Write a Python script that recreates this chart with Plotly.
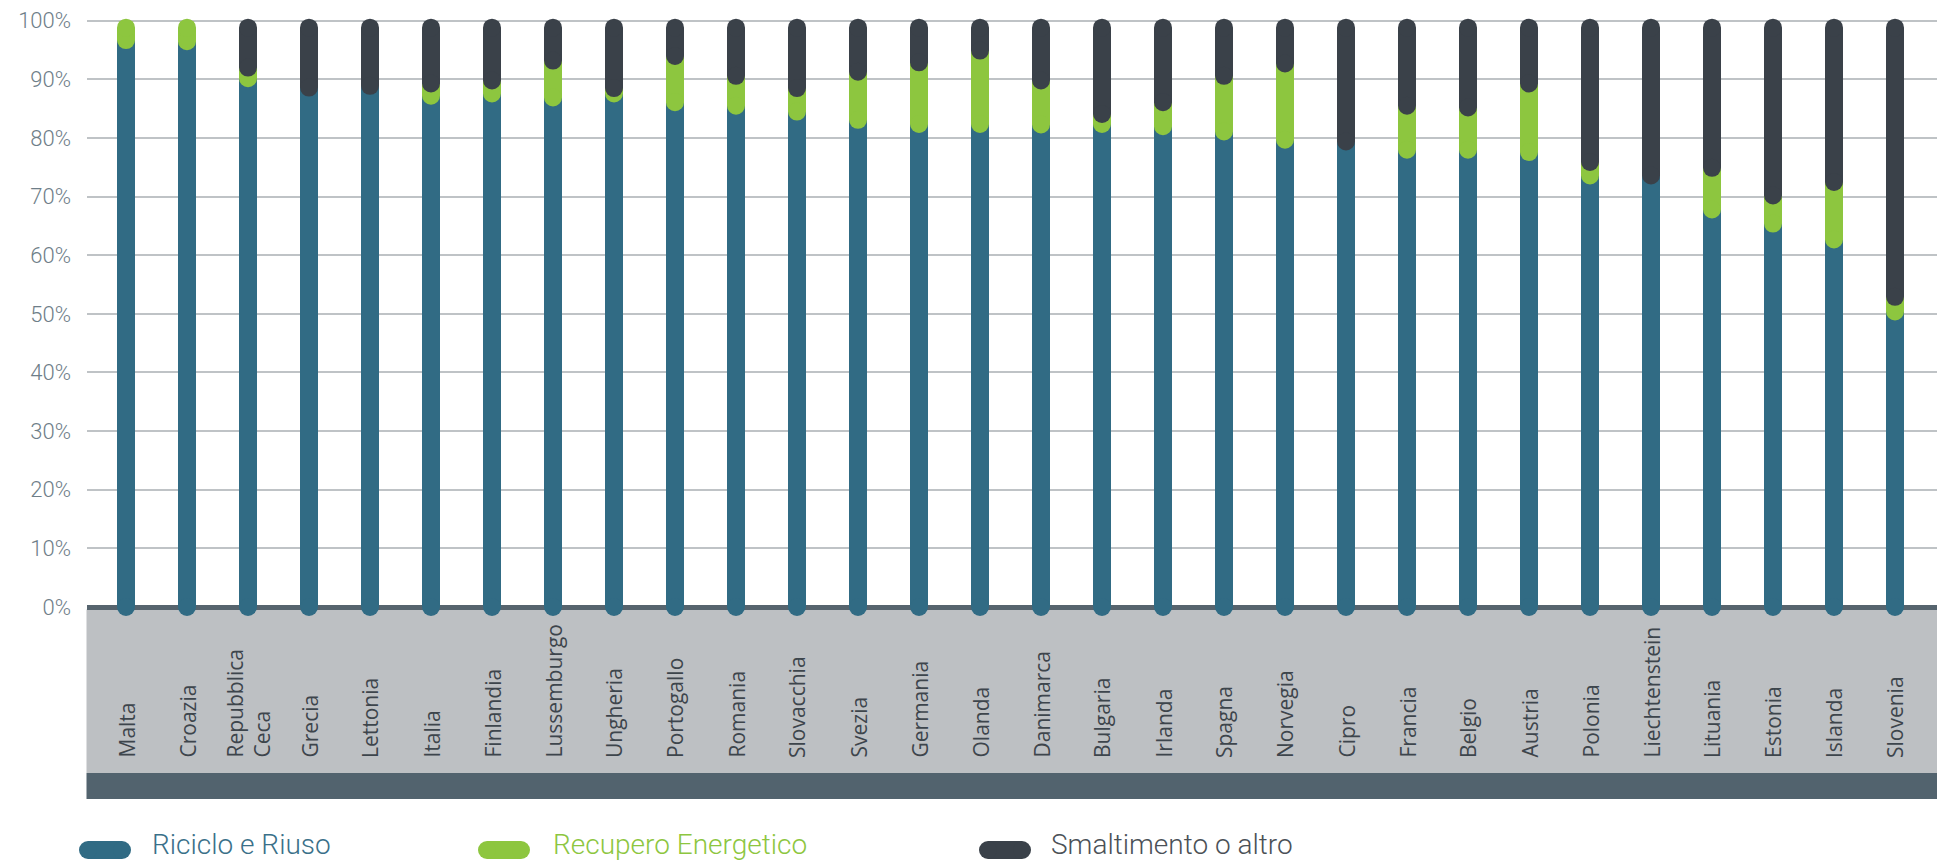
import plotly.graph_objects as go

# ---------------- data ----------------
countries = ["Malta", "Croazia", "Repubblica<br>Ceca", "Grecia", "Lettonia", "Italia",
             "Finlandia", "Lussemburgo", "Ungheria", "Portogallo", "Romania", "Slovacchia",
             "Svezia", "Germania", "Olanda", "Danimarca", "Bulgaria", "Irlanda", "Spagna",
             "Norvegia", "Cipro", "Francia", "Belgio", "Austria", "Polonia", "Liechtenstein",
             "Lituania", "Estonia", "Islanda", "Slovenia"]

riciclo = [96.7, 96.5, 90.2, 88.6, 88.9, 87.2, 87.6, 86.9, 87.6, 86.1, 85.5, 84.5,
           83.1, 82.4, 82.4, 82.3, 82.4, 82.0, 81.1, 79.7, 79.4, 78.0, 78.0, 77.6,
           73.6, 73.6, 67.8, 65.4, 62.7, 50.4]
recupero = [3.3, 3.5, 1.8, 0.0, 0.0, 2.1, 2.2, 6.3, 0.9, 7.9, 5.1, 4.0,
            8.2, 10.5, 12.5, 7.5, 1.7, 4.1, 9.5, 13.0, 0.0, 7.5, 7.2, 11.7,
            2.3, 0.0, 7.1, 4.8, 9.8, 2.5]
smaltimento = [0.0, 0.0, 8.0, 11.4, 11.1, 10.7, 10.2, 6.8, 11.5, 6.0, 9.4, 11.5,
               8.7, 7.1, 5.1, 10.2, 15.9, 13.9, 9.4, 7.3, 20.6, 14.5, 14.8, 10.7,
               24.1, 26.4, 25.1, 29.8, 27.5, 47.1]

series_names = ["Riciclo e Riuso", "Recupero Energetico", "Smaltimento o altro"]
series_values = [riciclo, recupero, smaltimento]
series_colors = ["#316b84", "#8dc63f", "#3a4149"]
legend_text_colors = ["#3a7089", "#8dc63f", "#4b5157"]

y_ticks = list(range(0, 101, 10))

# ---------------- geometry ----------------
W, H = 1937, 863
ML = 87
PLOT_W = W - ML
Y0_PX = 607.0       # pixel of 0 %
Y100_PX = 20.7      # pixel of 100 %
PPU = (Y0_PX - Y100_PX) / 100.0
Y_RANGE = [-(H - Y0_PX) / PPU, Y0_PX / PPU]
BAR_X0_PX = 126.0
BAR_STEP_PX = 61.0
X_RANGE = [-(BAR_X0_PX - ML) / BAR_STEP_PX, (W - BAR_X0_PX) / BAR_STEP_PX]
BAR_W = 18
TOP_INSET = 7.0 / PPU


def px_x(p):
    return (p - ML) / PLOT_W


def px_y(p):
    return (H - p) / H


fig = go.Figure()

# stacked rounded segments
n = len(countries)
for k in range(3):
    xs, ys = [], []
    for i in range(n):
        lo = sum(series_values[j][i] for j in range(k))
        v = series_values[k][i]
        if v <= 0:
            continue
        hi = lo + v
        is_top = all(series_values[j][i] <= 0 for j in range(k + 1, 3))
        if is_top:
            hi = hi - TOP_INSET
        xs += [i, i, None]
        ys += [lo, hi, None]
    fig.add_trace(go.Scatter(
        x=xs, y=ys, mode="lines+markers", name=series_names[k],
        line=dict(color=series_colors[k], width=BAR_W),
        marker=dict(color=series_colors[k], size=BAR_W, line=dict(width=0)),
        connectgaps=False, hoverinfo="skip", showlegend=False, cliponaxis=False,
    ))

shapes = []
# light grey label band
shapes.append(dict(type="rect", xref="paper", yref="paper", layer="below",
                   x0=px_x(86.5), x1=1.0, y0=px_y(773), y1=px_y(609.5),
                   fillcolor="#bdc0c3", line=dict(width=0)))
# dark band
shapes.append(dict(type="rect", xref="paper", yref="paper", layer="below",
                   x0=px_x(86.5), x1=1.0, y0=px_y(799), y1=px_y(773),
                   fillcolor="#52636e", line=dict(width=0)))

annotations = []
# category labels
for i, c in enumerate(countries):
    annotations.append(dict(
        x=i, y=px_y(760), xref="x", yref="paper", text=c, showarrow=False,
        textangle=-90, xanchor="center", yanchor="bottom", align="left",
        font=dict(family="Open Sans, Noto Sans, sans-serif", size=21, color="#3d454c"),
    ))

# legend (pills + text)
legend_pill_px = [79, 478, 979]
legend_text_px = [151, 552, 1050]
PILL_LEN = 52
R = 9
LEG_Y = 850
for k in range(3):
    x0 = legend_pill_px[k]
    x1 = x0 + PILL_LEN
    col = series_colors[k]
    shapes.append(dict(type="rect", xref="paper", yref="paper",
                       x0=px_x(x0 + R), x1=px_x(x1 - R), y0=px_y(LEG_Y + R), y1=px_y(LEG_Y - R),
                       fillcolor=col, line=dict(width=0)))
    for cx in (x0 + R, x1 - R):
        shapes.append(dict(type="circle", xref="paper", yref="paper",
                           x0=px_x(cx - R), x1=px_x(cx + R), y0=px_y(LEG_Y + R), y1=px_y(LEG_Y - R),
                           fillcolor=col, line=dict(width=0)))
    annotations.append(dict(
        x=px_x(legend_text_px[k]), y=px_y(LEG_Y - 6), xref="paper", yref="paper",
        text=series_names[k], showarrow=False, xanchor="left", yanchor="middle",
        borderpad=0,
        font=dict(family="Roboto, sans-serif", size=28, color=legend_text_colors[k], weight=300),
    ))

fig.update_layout(
    width=W, height=H,
    margin=dict(l=ML, r=0, t=0, b=0, pad=0),
    paper_bgcolor="white", plot_bgcolor="white",
    showlegend=False,
    shapes=shapes, annotations=annotations,
    xaxis=dict(range=X_RANGE, showgrid=False, zeroline=False, showticklabels=False,
               showline=False, fixedrange=True),
    yaxis=dict(range=Y_RANGE, tickmode="array", tickvals=y_ticks,
               ticktext=[f"{t}%" for t in y_ticks],
               showgrid=True, gridcolor="#bfc3c6", gridwidth=2,
               zeroline=True, zerolinecolor="#56646e", zerolinewidth=5,
               showline=False, ticks="", ticklabelstandoff=15,
               tickfont=dict(family="Roboto, sans-serif", size=22, color="#6e7e88", weight=300),
               fixedrange=True),
)

fig.write_html("out.html")
